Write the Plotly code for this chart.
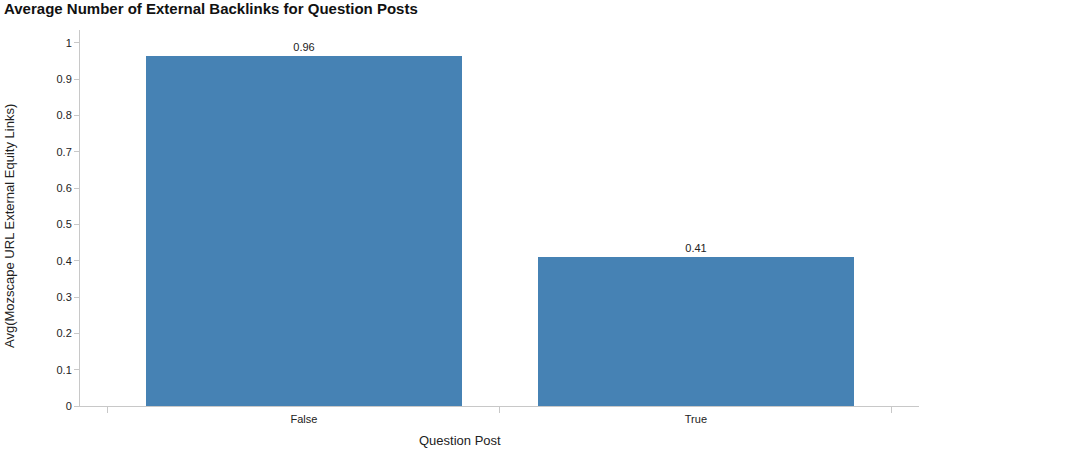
import plotly.graph_objects as go

categories = ["False", "True"]
values = [0.964, 0.411]
value_labels = ["0.96", "0.41"]
y_ticks = [0, 0.1, 0.2, 0.3, 0.4, 0.5, 0.6, 0.7, 0.8, 0.9, 1]
y_tick_labels = ["0", "0.1", "0.2", "0.3", "0.4", "0.5", "0.6", "0.7", "0.8", "0.9", "1"]

W, H = 1074, 449
L, R, T, B = 80, 155, 30, 43
pw = W - L - R
ph = H - T - B

pos = list(range(len(categories)))
boundaries = [p - 0.5 for p in pos] + [pos[-1] + 0.5]
xr = [-0.571, 1.569]

fig = go.Figure()
fig.add_trace(go.Bar(
    x=pos, y=values, width=0.806,
    marker=dict(color="#4682b4", line=dict(width=0)),
    text=value_labels, textposition="outside",
    textfont=dict(family="Arial", size=11, color="#222"),
    cliponaxis=False, showlegend=False, hoverinfo="skip",
))

fig.update_layout(
    width=W, height=H,
    margin=dict(l=L, r=R, t=T, b=B),
    paper_bgcolor="white", plot_bgcolor="white",
    bargap=0,
    font=dict(family="Arial", size=11, color="#222"),
    title=dict(text="<b>Average Number of External Backlinks for Question Posts</b>",
               x=4 / W, xanchor="left", y=1 - 9 / H, yanchor="middle",
               font=dict(family="Arial", size=15, color="#111")),
    xaxis=dict(range=xr, tickvals=boundaries, ticktext=["" for _ in boundaries],
               ticks="outside", ticklen=6, tickcolor="#c8c8c8", tickwidth=1,
               showline=True, linecolor="#c8c8c8", linewidth=1,
               showgrid=False, zeroline=False, fixedrange=True),
    xaxis2=dict(range=xr, overlaying="x", side="bottom", tickvals=pos,
                ticktext=categories, ticks="", showline=False, showgrid=False,
                zeroline=False, ticklabelstandoff=5,
                tickfont=dict(family="Arial", size=11, color="#222")),
    yaxis=dict(range=[0, 1.035], tickvals=y_ticks, ticktext=y_tick_labels,
               ticks="outside", ticklen=5, tickcolor="#c8c8c8", tickwidth=1,
               showline=True, linecolor="#c8c8c8", linewidth=1,
               showgrid=False, zeroline=False,
               tickfont=dict(family="Arial", size=11, color="#222")),
    annotations=[
        dict(text="Question Post", xref="paper", yref="paper",
             x=(460 - L) / pw, y=-(440 - (T + ph)) / ph, xanchor="center", yanchor="middle",
             showarrow=False, font=dict(family="Arial", size=13, color="#222")),
        dict(text="Avg(Mozscape URL External Equity Links)", xref="paper", yref="paper",
             x=(10 - L) / pw, y=(T + ph - 226) / ph, xanchor="center", yanchor="middle",
             textangle=-90, showarrow=False, font=dict(family="Arial", size=13, color="#222")),
    ],
)
fig.add_trace(go.Scatter(x=[None], y=[None], xaxis="x2", showlegend=False))

fig.write_html("out.html", config={"displayModeBar": False},
               post_script="document.body.style.margin='0';document.body.style.overflow='hidden';")
